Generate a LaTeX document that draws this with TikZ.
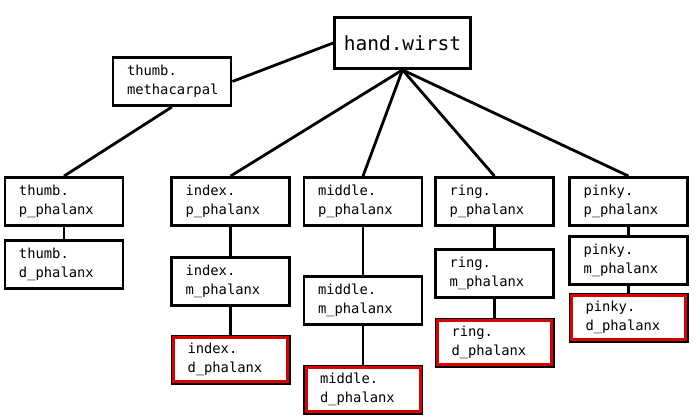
\documentclass[tikz,border=0pt]{standalone}
\usepackage{fontspec}
\setmonofont{DejaVu Sans Mono}
\usetikzlibrary{positioning}

\begin{document}
\begin{tikzpicture}[
    x=1pt, y=1pt,
    box/.style={draw, line width=2.8pt, fill=white, text=black, align=left, text width=90pt, inner xsep=14pt, inner ysep=0pt, minimum height=48pt, font=\ttfamily\fontsize{13.8}{19}\selectfont},
    leaf/.style={box, draw=red!85!black, line width=3pt, text width=86pt, minimum height=44pt, preaction={draw=black, line width=6pt}},
    root/.style={draw, line width=2.8pt, fill=white, text=black, minimum width=136pt, minimum height=51pt, inner sep=0pt, font=\ttfamily\fontsize{19.5}{22}\selectfont},
    bone/.style={line width=2.8pt}
]
\useasboundingbox (0,0) rectangle (696,-419);

\node[root] (wrist) at (402.5,-43) {hand.wirst};
\node[box] (thumbmc) at (172,-81.5) {thumb.\\methacarpal};

\node[box] (thumbp) at (64,-201.5) {thumb.\\p\_phalanx};
\node[box, below=12pt of thumbp] (thumbd) {thumb.\\d\_phalanx};

\node[box] (indexp) at (230.5,-201.5) {index.\\p\_phalanx};
\node[box, below=29pt of indexp] (indexm) {index.\\m\_phalanx};
\node[leaf, below=29.5pt of indexm] (indexd) {index.\\d\_phalanx};

\node[box] (middlep) at (363,-201.5) {middle.\\p\_phalanx};
\node[box, below=48pt of middlep] (middlem) {middle.\\m\_phalanx};
\node[leaf, below=40.5pt of middlem] (middled) {middle.\\d\_phalanx};

\node[box] (ringp) at (494.5,-201.5) {ring.\\p\_phalanx};
\node[box, below=21pt of ringp] (ringm) {ring.\\m\_phalanx};
\node[leaf, below=20.5pt of ringm] (ringd) {ring.\\d\_phalanx};

\node[box] (pinkyp) at (628.5,-201.5) {pinky.\\p\_phalanx};
\node[box, below=8pt of pinkyp] (pinkym) {pinky.\\m\_phalanx};
\node[leaf, below=8.5pt of pinkym] (pinkyd) {pinky.\\d\_phalanx};

% wrist and thumb
\draw[bone] (wrist.west) -- (thumbmc.east);
\draw[bone] (thumbmc.south) -- (thumbp.north);
\draw[bone] (thumbp) -- (thumbd);

% wrist to the fingers
\foreach \f in {index, middle, ring, pinky}
    \draw[bone] (wrist.south) -- (\f p.north);

% finger chains
\foreach \f in {index, middle, ring, pinky} {
    \draw[bone] (\f p) -- (\f m);
    \draw[bone] (\f m) -- (\f d);
}
\end{tikzpicture}
\end{document}
